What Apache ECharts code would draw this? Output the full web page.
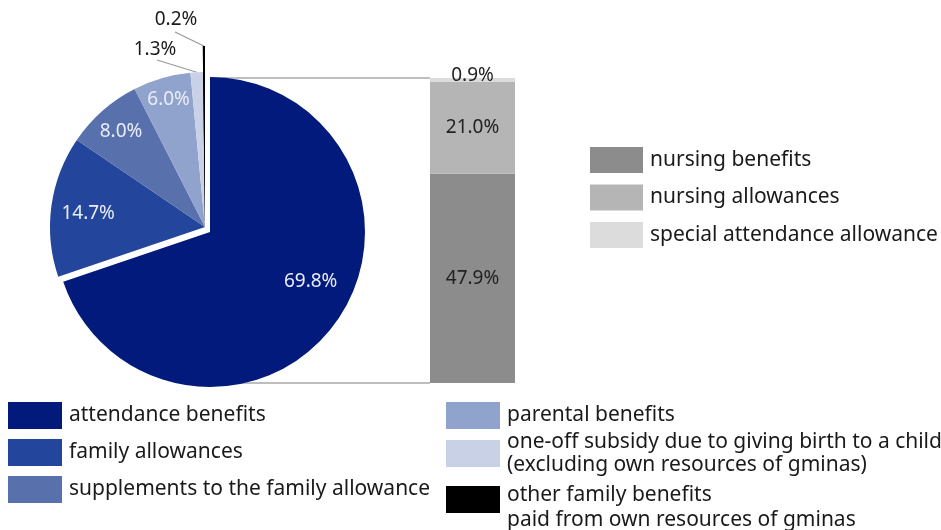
<!DOCTYPE html>
<html><head><meta charset="utf-8">
<script src="https://cdn.jsdelivr.net/npm/echarts@6/dist/echarts.min.js"></script>
<style>html,body{margin:0;padding:0;background:#fff}#c{width:941px;height:530px}</style>
</head><body><div id="c"></div>
<script>
const pieNames = ['attendance benefits', 'family allowances', 'supplements to the family allowance', 'parental benefits',
  'one-off subsidy due to giving birth to a child\n(excluding own resources of gminas)',
  'other family benefits\npaid from own resources of gminas'];
const pieValues = [69.8, 14.7, 8.0, 6.0, 1.3, 0.2];
const pieColors = ['#021a7c', '#23469c', '#5871ac', '#8fa3cc', '#c9d1e7', '#000000'];
const barCategories = ['attendance benefits'];
const barNames = ['nursing benefits', 'nursing allowances', 'special attendance allowance'];
const barValues = [47.9, 21.0, 0.9];
const barColors = ['#8c8c8c', '#b5b5b5', '#dcdcdc'];

const FONT = 'Noto Sans';
const total = pieValues[0];
const rest = pieValues.slice(1).reduce((a, b) => a + b, 0);
const fmt = p => p.value.toFixed(1) + '%';
const T = 'transparent';
const inLabelColor = '#e9edf6';

const chart = echarts.init(document.getElementById('c'), null, {renderer: 'canvas'});

const mainCenter = [210, 232];
const smallCenter = [205, 227];
const R = 155;

const series = [];
barNames.forEach((n, i) => {
  series.push({
    type: 'bar', name: n, stack: 'att', barWidth: '100%', xAxisIndex: 0, yAxisIndex: 0,
    data: [barValues[i]], itemStyle: {color: barColors[i]}, silent: true, z: 2,
    label: {show: true, position: 'inside', color: '#222', fontFamily: FONT, fontSize: 19,
      formatter: fmt, offset: i === 2 ? [0, -4] : [0, 0]}
  });
});
[total, 0].forEach(v => {
  series.push({
    type: 'line', xAxisIndex: 1, yAxisIndex: 1, data: [[0, v], [1, v]], symbol: 'none',
    lineStyle: {color: '#a8a8a8', width: 1.5}, z: 1, clip: false, silent: true
  });
});
// main slice
series.push({
  type: 'pie', center: mainCenter, radius: R, startAngle: 90, clockwise: true, z: 3, silent: true,
  avoidLabelOverlap: false, itemStyle: {borderWidth: 0},
  label: {show: false}, labelLine: {show: false},
  data: [
    {name: pieNames[0], value: pieValues[0], itemStyle: {color: pieColors[0]}},
    {name: '_restA', value: rest, itemStyle: {color: T}}
  ]
});
// other slices, shifted
series.push({
  type: 'pie', center: smallCenter, radius: R, startAngle: 90, clockwise: true, z: 3, silent: true,
  avoidLabelOverlap: false, itemStyle: {borderWidth: 0},
  label: {show: false}, labelLine: {show: false},
  data: [{name: '_gapB', value: pieValues[0], itemStyle: {color: T}}].concat(
    pieNames.slice(1).map((n, k) => {
      const i = k + 1;
      const d = {name: n, value: pieValues[i], itemStyle: {color: pieColors[i]}};
      if (i === 4) {
        d.label = {show: true, position: 'outside', formatter: fmt, color: '#1a1a1a', fontFamily: FONT, fontSize: 19};
        d.labelLine = {show: true, lineStyle: {color: '#9a9a9a', width: 1.2}};
      }
      return d;
    })),
  labelLayout: function (p) {
    if (p.dataIndex !== 4) return {};
    const t = p.labelLinePoints ? p.labelLinePoints[0] : null;
    const o = {x: 155, y: 50, align: 'center', verticalAlign: 'middle'};
    if (t) o.labelLinePoints = [t, t, [157, 60]];
    return o;
  }
});
// long black slice
series.push({
  type: 'pie', center: smallCenter, radius: 181, startAngle: 90, clockwise: true, z: 4, silent: true,
  avoidLabelOverlap: false, itemStyle: {borderWidth: 0},
  label: {show: false}, labelLine: {show: false},
  data: [
    {name: '_gapC', value: pieValues.slice(0, 5).reduce((a, b) => a + b, 0), itemStyle: {color: T}},
    {name: pieNames[5], value: pieValues[5], itemStyle: {color: pieColors[5]},
      label: {show: true, position: 'outside', formatter: fmt, color: '#1a1a1a', fontFamily: FONT, fontSize: 19},
      labelLine: {show: true, lineStyle: {color: '#9a9a9a', width: 1.2}}}
  ],
  labelLayout: function (p) {
    if (p.dataIndex !== 1) return {};
    const t = p.labelLinePoints ? p.labelLinePoints[0] : null;
    const o = {x: 176, y: 20, align: 'center', verticalAlign: 'middle'};
    if (t) o.labelLinePoints = [t, t, [175, 32]];
    return o;
  }
});
// label rings
series.push({
  type: 'pie', center: mainCenter, radius: [67, R], startAngle: 90, clockwise: true, z: 5, silent: true,
  avoidLabelOverlap: false, itemStyle: {borderWidth: 0, color: T},
  label: {show: false}, labelLine: {show: false},
  labelLayout: {dx: 8, dy: -17},
  data: [
    {name: '_lA', value: pieValues[0], label: {show: true, position: 'inside', formatter: fmt, color: inLabelColor, fontFamily: FONT, fontSize: 19}},
    {name: '_lA2', value: rest}
  ]
});
series.push({
  type: 'pie', center: smallCenter, radius: [93, R], startAngle: 90, clockwise: true, z: 5, silent: true,
  avoidLabelOverlap: false, itemStyle: {borderWidth: 0, color: T},
  label: {show: false}, labelLine: {show: false},
  labelLayout: function (p) {
    if (p.dataIndex === 1) return {dx: 9, dy: 4};
    if (p.dataIndex === 3) return {dx: -1, dy: -5};
    return {};
  },
  data: pieValues.map((v, i) => {
    const d = {name: '_lB' + i, value: v};
    if (i >= 1 && i <= 3) d.label = {show: true, position: 'inside', formatter: fmt, color: inLabelColor, fontFamily: FONT, fontSize: 19};
    return d;
  })
});

const legendBase = {
  orient: 'vertical', icon: 'rect', itemWidth: 54, itemHeight: 27, padding: 0, selectedMode: false,
  textStyle: {fontFamily: FONT, fontSize: 21, color: '#1a1a1a', lineHeight: 23, padding: [0, 0, 0, 2]}
};

chart.setOption({
  animation: false,
  backgroundColor: '#fff',
  grid: [
    {left: 430, top: 78, width: 85, height: 305},
    {left: 210, top: 78, width: 220, height: 305}
  ],
  xAxis: [
    {type: 'category', gridIndex: 0, data: barCategories, show: false},
    {type: 'value', gridIndex: 1, min: 0, max: 1, show: false}
  ],
  yAxis: [
    {type: 'value', gridIndex: 0, min: 0, max: total, show: false},
    {type: 'value', gridIndex: 1, min: 0, max: total, show: false}
  ],
  legend: [
    Object.assign({}, legendBase, {left: 8, top: 402, itemGap: 10, data: pieNames.slice(0, 3)}),
    Object.assign({}, legendBase, {left: 446, top: 402, data: [pieNames[3]]}),
    Object.assign({}, legendBase, {left: 446, top: 430.5, data: [pieNames[4]]}),
    Object.assign({}, legendBase, {left: 446, top: 466, data: [pieNames[5]],
      formatter: function (name) {
        return '{s| }\n' + name.split('\n').map(l => '{t|' + l + '}').join('\n');
      },
      textStyle: Object.assign({}, legendBase.textStyle, {
        rich: {
          s: {fontSize: 10, lineHeight: 17, fontFamily: FONT},
          t: {fontSize: 21, lineHeight: 25, fontFamily: FONT, color: '#1a1a1a'}
        }
      })}),
    Object.assign({}, legendBase, {left: 590, top: 147, itemWidth: 53, itemHeight: 26, itemGap: 11.5, data: barNames})
  ],
  series: series
});
</script>
</body></html>
